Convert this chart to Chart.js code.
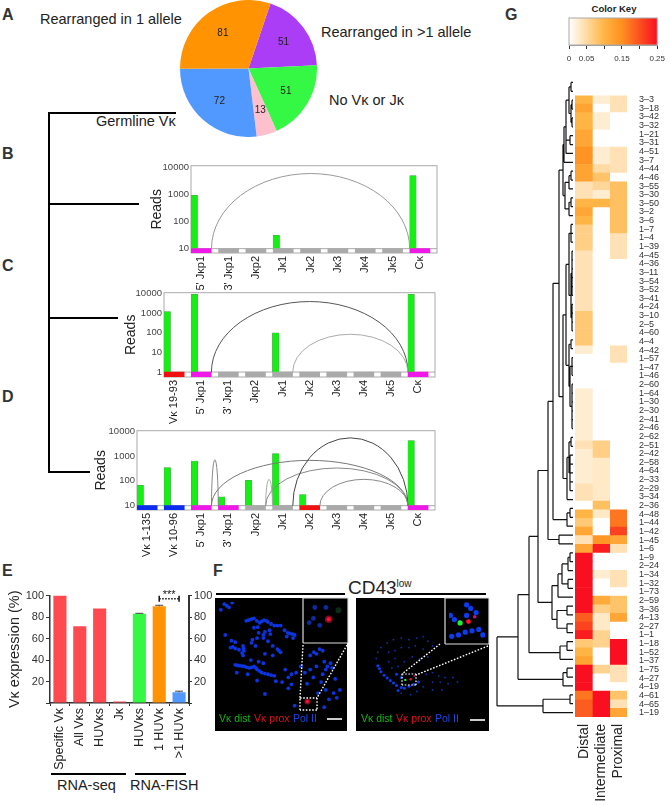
<!DOCTYPE html>
<html>
<head>
<meta charset="utf-8">
<title>Vk rearrangement figure</title>
<script src="https://cdn.jsdelivr.net/npm/chart.js@4"></script>
<style>
    html, body { margin: 0; padding: 0; background: #fff; }
    #page { position: relative; width: 670px; height: 805px; overflow: hidden; font-family: "Liberation Sans", Arial, sans-serif; color: #222; }
    #page canvas { position: absolute; }
    .t { position: absolute; white-space: nowrap; line-height: 1; }
    .letter { position: absolute; font-size: 16px; font-weight: bold; color: #333; line-height: 1; }
    .rule { position: absolute; background: #000; }
    .img { filter: blur(0.5px); background: #000; }
    svg { position: absolute; left: 0; top: 0; }
</style>
</head>
<body>
<div id="page">
    <div class="letter" style="left:2px;top:7px">A</div>
    <div class="letter" style="left:2px;top:146px">B</div>
    <div class="letter" style="left:2px;top:258px">C</div>
    <div class="letter" style="left:2px;top:389px">D</div>
    <div class="letter" style="left:2px;top:563px">E</div>
    <div class="letter" style="left:213px;top:563px">F</div>
    <div class="letter" style="left:505px;top:7px">G</div>

    <div class="t" style="left:40px;top:12px;font-size:14.5px">Rearranged in 1 allele</div>
    <div class="t" style="left:321px;top:25px;font-size:14.5px">Rearranged in &gt;1 allele</div>
    <div class="t" style="left:329px;top:93px;font-size:14.5px">No Vκ or Jκ</div>
    <div class="t" style="left:96px;top:114px;font-size:14.5px">Germline Vκ</div>

    <div class="rule" style="left:48px;top:112px;width:1.5px;height:361px"></div>
    <div class="rule" style="left:48px;top:112px;width:128px;height:1.5px"></div>
    <div class="rule" style="left:48px;top:203px;width:91px;height:1.5px"></div>
    <div class="rule" style="left:48px;top:317px;width:70px;height:1.5px"></div>
    <div class="rule" style="left:48px;top:471px;width:42px;height:1.5px"></div>

    <div class="rule" style="left:51px;top:773px;width:75px;height:1.5px"></div>
    <div class="rule" style="left:135px;top:773px;width:51px;height:1.5px"></div>
    <div class="t" style="left:57px;top:778px;font-size:14.5px">RNA-seq</div>
    <div class="t" style="left:130px;top:778px;font-size:14.5px">RNA-FISH</div>

    <div class="rule" style="left:216px;top:593px;width:129px;height:1.5px"></div>
    <div class="rule" style="left:400px;top:593px;width:86px;height:1.5px"></div>
    <div class="t" style="left:348px;top:578px;font-size:19px">CD43<span style="font-size:10px;position:relative;top:-7px">low</span></div>

    <div class="t" style="left:614px;top:4px;font-size:9.5px;font-weight:bold;transform:translateX(-50%)">Color Key</div>
</div>

<script>
Chart.defaults.animation = false;
Chart.defaults.font.family = '"Liberation Sans", Arial, sans-serif';
Chart.defaults.plugins.legend.display = false;
Chart.defaults.plugins.tooltip.enabled = false;

// A - pie
const pieLabels = ["Rearranged in >1 allele", "No Vκ or Jκ", "Other", "Germline Vκ", "Rearranged in 1 allele"];
const pieValues = [51, 51, 13, 72, 81];
const pieColors = ["#AB3DF6", "#35F845", "#FEC0CC", "#5299FF", "#FF9302"];

// B, C, D - reads
const bGenes = ["5' Jκp1", "3' Jκp1", "Jκp2", "Jκ1", "Jκ2", "Jκ3", "Jκ4", "Jκ5", "Cκ"];
const bReads = [950, null, null, 31, null, null, null, null, 5100];
const bStrips = ["#F018E8", "#aaa", "#aaa", "#aaa", "#aaa", "#aaa", "#aaa", "#aaa", "#F018E8"];
const bArcFrom = [0.75];
const bArcTo = [8];
const bArcPeak = [6050];

const cGenes = ["Vκ 19-93", "5' Jκp1", "3' Jκp1", "Jκp2", "Jκ1", "Jκ2", "Jκ3", "Jκ4", "Jκ5", "Cκ"];
const cReads = [1200, 9000, null, null, 100, null, null, null, null, 9000];
const cStrips = ["#F01010", "#F018E8", "#aaa", "#aaa", "#aaa", "#aaa", "#aaa", "#aaa", "#aaa", "#F018E8"];
const cArcFrom = [1.75, 4.75];
const cArcTo = [9, 9];
const cArcPeak = [3900, 84];

const dGenes = ["Vκ 1-135", "Vκ 10-96", "5' Jκp1", "3' Jκp1", "Jκp2", "Jκ1", "Jκ2", "Jκ3", "Jκ4", "Jκ5", "Cκ"];
const dReads = [66, 340, 630, 23, 105, 1270, 28, null, null, null, 4200];
const dStrips = ["#0A2CF0", "#0A2CF0", "#F018E8", "#F018E8", "#aaa", "#aaa", "#F01010", "#aaa", "#aaa", "#aaa", "#F018E8"];
const dArcFrom = [2.75, 2.75, 4.75, 4.75, 5.75, 6.75];
const dArcTo = [3, 10, 5, 10, 10, 10];
const dArcPeak = [710, 670, 115, 330, 5400, 115];

// E - expression
const exprLabels = ["Specific Vκ", "All Vκs", "HUVκs", "Jκ", "HUVκs", "1 HUVκ", ">1 HUVκ"];
const exprValues = [100, 71.5, 88, 1, 83, 90, 10];
const exprErrors = [0, 0, 0, 0, 0.5, 1, 1];
const exprColors = ["#FF4B50", "#FF4B50", "#FF4B50", "#FF4B50", "#35F845", "#FF9302", "#5299FF"];

// F - microscopy spots
const f1PolX = [25,40,14,50,95,108,120,138,152,165,185,205,170,155,132,120,135,218,235,250,225,245,28,48,60,45,60,72,85,88,85,115,130,150,165,180,195,205,180,155,125,60,75,90,105,120,130,145,165,185,110,135,150,65,100,130,190,210,230,240,255,220,300,320,340,345,355,370,340,310,300,320,155,230,240,325,350,375,385,360,345,250,290,
    33,102,114,129,145,160,175,195,228,243,52,68,87,82,68,83,97,113,126,138,155,175,150,172,112,200,270,283,312,330,350,365,380,395,335];
const f1PolY = [17,27,35,12,70,66,62,76,68,74,85,85,100,105,90,92,108,100,110,115,120,125,115,133,138,155,158,162,150,165,180,130,125,125,135,150,160,170,180,175,150,210,213,215,220,215,225,235,240,245,195,200,205,235,240,260,262,265,250,240,235,225,180,175,165,200,215,220,240,250,225,215,303,285,272,300,290,300,315,320,345,340,270,
    22,68,64,70,72,70,80,85,108,112,153,212,158,172,212,214,218,218,220,230,238,243,115,112,140,165,215,235,170,160,225,205,255,290,265];
const f2PolX = [60,65,75,95,115,140,165,190,210,225,240,100,120,140,165,185,210,100,120,150,175,200,225,110,130,220,240,260,280,305,320,240,265,290,210,240,270,190,170,140];
const f2PolY = [190,170,155,140,130,125,130,125,120,135,150,170,165,155,155,150,160,200,190,200,185,190,185,220,215,240,235,245,250,250,265,265,265,270,280,290,290,295,305,300];
const f2ArcX = [65,70,75,85,95,105,115,125,140,130,150,165,180,195,125,140];
const f2ArcY = [213,222,232,243,252,260,268,276,282,292,285,278,272,265,240,250];
const f1InsetPolX = [318,280,295,300,340];
const f1InsetPolY = [95,85,70,30,30];
const f2InsetPolX = [280,295,340,355,375,285,310,335,360,385,400,340];
const f2InsetPolY = [60,75,22,35,50,135,130,120,115,110,130,60];

// G - heatmap rows, top to bottom
const rowLabels = ["3–3","3–18","3–42","3–32","1–21","3–31","4–51","3–7","4–44","4–46","3–55","3–30","3–50","3–2","3–6","1–7","1–4","1–39","4–45","4–36","3–11","3–54","3–52","3–41","4–24","3–10","2–5","4–60","4–4","4–42","1–57","1–47","1–46","2–60","1–64","1–30","2–30","2–41","2–46","2–62","2–51","2–42","2–58","4–64","2–33","2–29","3–34","2–36","4–48","1–44","1–42","1–45","1–6","1–9","2–24","1–34","1–32","1–73","2–59","3–36","4–13","2–27","1–1","1–18","1–52","1–37","1–75","4–27","4–19","4–61","4–65","1–19"];
const colLabels = ["Distal", "Intermediate", "Proximal"];
const distal = [.10,.125,.10,.10,.12,.12,.145,.145,.125,.125,.04,.04,.10,.12,.10,.065,.065,.065,.04,.04,.04,.04,.04,.04,.04,.075,.075,.075,.075,.025,0,0,0,0,.025,.025,.025,.025,.025,.025,.04,.025,.025,.025,.025,.04,.04,0,.10,.075,.12,.04,.12,.25,.25,.25,.25,.25,.25,.25,.19,.21,.24,.075,.10,.125,.25,.25,.25,.17,.19,.19];
const intermediate = [.025,0,.025,.025,0,0,.025,.025,.05,.08,.055,.025,.10,0,0,0,0,0,0,0,0,0,0,0,0,0,0,0,0,0,0,0,0,0,0,0,0,0,0,0,.065,.065,.03,.03,.03,.03,.03,.085,.03,0,0,.14,.24,0,0,.025,0,0,.115,.065,.03,.03,.06,.06,0,0,.06,0,0,.25,.25,.25];
const proximal = [.04,.04,0,0,0,0,.04,.04,.04,0,.085,.085,.085,.085,.085,.085,.04,.04,.04,0,0,0,0,0,0,0,0,0,0,.04,.04,0,0,0,0,0,0,0,0,0,0,0,0,0,0,0,0,0,.17,.17,.21,.12,.04,0,0,.04,.04,0,.08,.08,.12,0,0,.25,.25,.25,.04,.04,0,.08,.04,.12];
const keyTicks = [0, 0.05, 0.1, 0.15, 0.2, 0.25];
const keyLabels = ["0", "0.05", "", "0.15", "", "0.25"];

// dendrogram: [merge height, ...children], a child is a subtree or a row number
const rowTree = [76,
    [55,
        [44,
            [35,
                [25,
                    [20,
                        [14,
                            [10,
                                [9, [7, [4, [2,0,1], [2,[1,2,3],[1,4,5]]], [3,6,7], 8], 9],
                                [8, [4,[2,10,11],12], [4,[2,13,14],15]]],
                            [10,
                                [7, [4,[2,16,17,18],[2,[1,19,20,21,22,23,24],[1,25,26,27,28]]],
                                    [4,[2,29,30],[3,[1,31,32,33],[1,34,35,36,37,38,39]]]],
                                [6, [4,[2,40,41],[3,42,43,44,45,46]], 47]]],
                        [6, [3,48,49], 50]],
                    [14,51,52]],
                [21,
                    [15, [11,[5,[3,53,54],55],[5,56,57]], 58],
                    [16, [6,59,60], [6,61,62]]]],
            [13, [6,63,64], 65]],
        [10, [6,66,67], 68]],
    [30, [3,69,70], 71]];

function addCanvas(left, top, width, height, cls) {
    const c = document.createElement("canvas");
    c.width = width;
    c.height = height;
    c.style.left = left + "px";
    c.style.top = top + "px";
    c.style.width = width + "px";
    c.style.height = height + "px";
    if (cls) c.className = cls;
    document.getElementById("page").appendChild(c);
    return c;
}

// A
new Chart(addCanvas(180, 0, 137, 137), {
    type: "pie",
    data: { labels: pieLabels, datasets: [{ data: pieValues, backgroundColor: pieColors, borderWidth: 0 }] },
    options: {
        responsive: false,
        rotation: 18.7,
        layout: { padding: 0 },
    },
    plugins: [{
        id: "sliceValues",
        afterDatasetsDraw(chart) {
            const ctx = chart.ctx;
            ctx.save();
            ctx.font = "10px 'Liberation Sans'";
            ctx.fillStyle = "#222";
            ctx.textAlign = "center";
            ctx.textBaseline = "middle";
            chart.getDatasetMeta(0).data.forEach((arc, i) => {
                const mid = (arc.startAngle + arc.endAngle) / 2;
                const r = arc.outerRadius * 0.64;
                ctx.fillText(pieValues[i], arc.x + Math.cos(mid) * r, arc.y + Math.sin(mid) * r);
            });
            ctx.restore();
        }
    }]
});

// B, C, D
function readsChart(area, yWidth, genes, reads, strips, arcFrom, arcTo, arcPeak, yMin, yMax, stripTop, ticks, arcColors) {
    const xHeight = 62;
    const canvas = addCanvas(area.l - yWidth, area.t - 6, area.r - area.l + yWidth + 3, area.b - area.t + 6 + xHeight);
    const stripData = genes.map((g, i) => ({ x: i + 0.375, y: [yMin, stripTop] }));
    const readData = [];
    reads.forEach((r, i) => { if (r !== null) readData.push({ x: i + 0.12, y: [stripTop, r] }); });
    new Chart(canvas, {
        type: "bar",
        data: {
            datasets: [
                { data: stripData, backgroundColor: strips, barThickness: 20, grouped: false },
                { data: readData, backgroundColor: "#14F014", borderColor: "#5a9a5a", borderWidth: 0.5, barThickness: 6.5, grouped: false }
            ]
        },
        options: {
            responsive: false,
            layout: { padding: { top: 6, right: 3, left: 0, bottom: 0 } },
            scales: {
                x: {
                    type: "linear", min: 0, max: genes.length, offset: false,
                    grid: { display: false, drawTicks: false }, border: { display: false },
                    afterBuildTicks: s => { s.ticks = genes.map((g, i) => ({ value: i + 0.375 })); },
                    afterFit: s => { s.height = xHeight; },
                    ticks: {
                        autoSkip: false, minRotation: 90, maxRotation: 90, padding: 3,
                        color: "#222", font: { size: 11 },
                        callback: (v, i) => genes[i]
                    }
                },
                y: {
                    type: "logarithmic", min: yMin, max: yMax,
                    grid: { display: false, drawTicks: false }, border: { display: false },
                    afterBuildTicks: s => { s.ticks = ticks.map(v => ({ value: v })); },
                    afterFit: s => { s.width = yWidth; },
                    ticks: { autoSkip: false, color: "#444", padding: 2, font: { size: 9.5 }, callback: v => String(v) },
                    title: { display: true, text: "Reads", color: "#222", font: { size: 14 }, padding: 0 }
                }
            }
        },
        plugins: [{
            id: "spliceArcs",
            beforeDatasetsDraw(chart) {
                const ctx = chart.ctx, a = chart.chartArea, sy = chart.scales.y;
                ctx.save();
                ctx.strokeStyle = "#aaa";
                ctx.lineWidth = 1;
                ctx.strokeRect(a.left, a.top, a.right - a.left, a.bottom - a.top);
                ctx.beginPath();
                ctx.moveTo(a.left, sy.getPixelForValue(stripTop));
                ctx.lineTo(a.right, sy.getPixelForValue(stripTop));
                ctx.stroke();
                ctx.restore();
            },
            afterDatasetsDraw(chart) {
                const ctx = chart.ctx, sx = chart.scales.x, sy = chart.scales.y;
                const base = sy.getPixelForValue(stripTop);
                ctx.save();
                arcFrom.forEach((from, i) => {
                    const x0 = sx.getPixelForValue(from), x1 = sx.getPixelForValue(arcTo[i]);
                    ctx.beginPath();
                    ctx.ellipse((x0 + x1) / 2, base, (x1 - x0) / 2, base - sy.getPixelForValue(arcPeak[i]), 0, Math.PI, 2 * Math.PI);
                    ctx.strokeStyle = arcColors[i];
                    ctx.lineWidth = 1;
                    ctx.stroke();
                });
                ctx.restore();
            }
        }]
    });
}

readsChart({ l: 191, t: 164, r: 437, b: 253 }, 42, bGenes, bReads, bStrips, bArcFrom, bArcTo, bArcPeak, 6.9, 11800, 10, [10, 100, 1000, 10000], ["#999"]);
readsChart({ l: 164, t: 291, r: 435, b: 377 }, 41, cGenes, cReads, cStrips, cArcFrom, cArcTo, cArcPeak, 0.56, 11000, 1, [1, 10, 100, 1000, 10000], ["#555", "#aaa"]);
readsChart({ l: 136.7, t: 428.7, r: 435, b: 510 }, 44, dGenes, dReads, dStrips, dArcFrom, dArcTo, dArcPeak, 6.7, 10500, 10, [10, 100, 1000, 10000], ["#888", "#777", "#aaa", "#888", "#444", "#888"]);

// E
new Chart(addCanvas(6, 587, 214, 197), {
    type: "bar",
    data: {
        labels: exprLabels,
        datasets: [{ data: exprValues, backgroundColor: exprColors, barPercentage: 0.66, categoryPercentage: 1, minBarLength: 1.5 }]
    },
    options: {
        responsive: false,
        layout: { padding: { top: 6, right: 0, left: 0, bottom: 0 } },
        scales: {
            x: {
                grid: { drawOnChartArea: false, tickLength: 3, color: "#333" },
                border: { color: "#333", width: 1.5 },
                afterFit: s => { s.height = 81; },
                ticks: { autoSkip: false, minRotation: 90, maxRotation: 90, padding: 2, color: "#222", font: { size: 12.5 } }
            },
            y: {
                min: 0, max: 100,
                grid: { drawOnChartArea: false, tickLength: 4, color: "#333" },
                border: { color: "#333", width: 1.5 },
                afterFit: s => { s.width = 44; },
                ticks: { stepSize: 20, padding: 2, color: "#333", font: { size: 11 }, callback: v => v === 0 ? "" : v },
                title: { display: true, text: "Vκ expression (%)", color: "#222", font: { size: 14.5 }, padding: 0 }
            },
            y2: {
                position: "right", min: 0, max: 100,
                grid: { drawOnChartArea: false, tickLength: 3, color: "#333" },
                border: { color: "#333", width: 2 },
                afterFit: s => { s.width = 31; },
                ticks: { stepSize: 20, padding: 2, color: "#333", font: { size: 11 }, callback: v => v === 0 ? "" : v }
            }
        }
    },
    plugins: [{
        id: "errorsAndBracket",
        afterDatasetsDraw(chart) {
            const ctx = chart.ctx, sx = chart.scales.x, sy = chart.scales.y;
            ctx.save();
            ctx.strokeStyle = "#444";
            ctx.lineWidth = 1;
            exprErrors.forEach((err, i) => {
                if (!err) return;
                const px = sx.getPixelForValue(i), top = sy.getPixelForValue(exprValues[i] + err);
                ctx.beginPath();
                ctx.moveTo(px, sy.getPixelForValue(exprValues[i]));
                ctx.lineTo(px, top);
                ctx.moveTo(px - 4, top);
                ctx.lineTo(px + 4, top);
                ctx.stroke();
            });
            // *** between 1 HUVk and >1 HUVk
            const x0 = sx.getPixelForValue(5), x1 = sx.getPixelForValue(6), y = sy.getPixelForValue(97);
            ctx.strokeStyle = "#111";
            ctx.lineWidth = 1.5;
            ctx.setLineDash([1.5, 1.5]);
            ctx.beginPath();
            ctx.moveTo(x0, y);
            ctx.lineTo(x1, y);
            ctx.stroke();
            ctx.setLineDash([]);
            ctx.beginPath();
            ctx.moveTo(x0, y - 3);
            ctx.lineTo(x0, y + 3);
            ctx.moveTo(x1, y - 3);
            ctx.lineTo(x1, y + 3);
            ctx.stroke();
            ctx.fillStyle = "#111";
            ctx.font = "11px 'Liberation Sans'";
            ctx.textAlign = "center";
            ctx.fillText("***", (x0 + x1) / 2, y - 1);
            ctx.restore();
        }
    }]
});

// F
function spotChart(rect, bounds, sets) {
    new Chart(addCanvas(rect[0], rect[1], rect[2], rect[3], "img"), {
        type: "scatter",
        data: {
            datasets: sets.map(s => ({
                data: s.x.map((v, i) => ({ x: v, y: s.y[i] })),
                backgroundColor: s.color,
                pointRadius: s.r,
                borderWidth: 0
            }))
        },
        options: {
            responsive: false,
            layout: { padding: 0 },
            scales: {
                x: { display: false, min: bounds[0], max: bounds[1] },
                y: { display: false, min: bounds[2], max: bounds[3], reverse: true }
            }
        }
    });
}

spotChart([215, 598, 132, 133], [8, 405, 10, 408], [
    { x: f1PolX, y: f1PolY, color: "#0C34E0", r: 1.9 },
    { x: [291], y: [327], color: "rgba(255,20,60,0.5)", r: 3 },
    { x: [291], y: [327], color: "#FF1030", r: 1.6 }
]);
spotChart([356, 598, 133, 133], [8, 408, 10, 408], [
    { x: f2PolX, y: f2PolY, color: "#0C34B0", r: 0.9 },
    { x: f2ArcX, y: f2ArcY, color: "#0C3CF0", r: 1.5 },
    { x: [153], y: [258], color: "#20F030", r: 1.2 },
    { x: [170], y: [256], color: "#FF1030", r: 1.2 },
    { x: [182], y: [245], color: "#D01080", r: 0.9 }
]);
spotChart([303, 598, 45, 45], [272, 405, 10, 145], [
    { x: f1InsetPolX, y: f1InsetPolY, color: "rgba(20,60,230,0.7)", r: 2.4 },
    { x: [385], y: [40], color: "rgba(20,90,40,0.5)", r: 3 },
    { x: [350], y: [73], color: "rgba(255,20,60,0.5)", r: 3.8 },
    { x: [350], y: [73], color: "#FF1030", r: 2 }
]);
spotChart([445, 598, 44, 46], [275, 408, 12, 148], [
    { x: f2InsetPolX, y: f2InsetPolY, color: "#0C3CF0", r: 2.6 },
    { x: [316], y: [87], color: "#20F030", r: 2.6 },
    { x: [347], y: [82], color: "#FF1030", r: 2.4 },
    { x: [370], y: [65], color: "#D01080", r: 1.8 }
]);

// G - colour scale and key
const scaleStops = [[0, [255, 255, 255]], [0.1, [255, 181, 69]], [0.15, [255, 144, 32]], [0.25, [250, 15, 32]]];
function heatColor(v) {
    for (let i = 1; i < scaleStops.length; i++) {
        const [v0, c0] = scaleStops[i - 1], [v1, c1] = scaleStops[i];
        if (v <= v1) {
            const t = (v - v0) / (v1 - v0);
            return `rgb(${c0.map((c, k) => Math.round(c + (c1[k] - c) * t)).join(",")})`;
        }
    }
    return "rgb(250,15,32)";
}

new Chart(addCanvas(560, 16, 110, 52), {
    type: "bar",
    data: {
        labels: ["Color Key"],
        datasets: [{
            data: [[0, 0.25]],
            barPercentage: 1, categoryPercentage: 1,
            borderWidth: 0,
            backgroundColor(ctx) {
                const area = ctx.chart.chartArea;
                if (!area) return "#fff";
                const g = ctx.chart.ctx.createLinearGradient(area.left, 0, area.right, 0);
                scaleStops.forEach(s => g.addColorStop(s[0] / 0.25, heatColor(s[0])));
                return g;
            }
        }]
    },
    options: {
        indexAxis: "y",
        responsive: false,
        layout: { padding: { left: 9, right: 10, top: 2, bottom: 0 } },
        scales: {
            x: {
                min: 0, max: 0.25,
                grid: { drawOnChartArea: false, tickLength: 4, color: "#333" },
                border: { color: "#999" },
                afterBuildTicks: s => { s.ticks = keyTicks.map(v => ({ value: v })); },
                afterFit: s => { s.height = 23; },
                ticks: { autoSkip: false, maxRotation: 0, minRotation: 0, padding: 5, color: "#333", font: { size: 8 }, callback: (v, i) => keyLabels[i] }
            },
            y: { display: false }
        }
    },
    plugins: [{
        id: "keyFrame",
        afterDraw(chart) {
            const a = chart.chartArea, ctx = chart.ctx;
            ctx.save();
            ctx.strokeStyle = "#aaa";
            ctx.strokeRect(a.left, a.top, a.right - a.left, a.bottom - a.top);
            ctx.restore();
        }
    }]
});

// G - heatmap, one stacked bar per row
const heatXHeight = 88;
new Chart(addCanvas(575, 78, 95, 639 + heatXHeight), {
    type: "bar",
    data: {
        labels: rowLabels,
        datasets: [distal, intermediate, proximal].map(col => ({
            data: col.map(() => 1),
            backgroundColor: col.map(heatColor),
            barPercentage: 1,
            categoryPercentage: 1,
            borderWidth: 0
        }))
    },
    options: {
        indexAxis: "y",
        responsive: false,
        layout: { padding: 0 },
        scales: {
            x: {
                stacked: true, min: 0, max: 3,
                grid: { display: false, drawTicks: false }, border: { display: false },
                afterBuildTicks: s => { s.ticks = colLabels.map((c, i) => ({ value: i + 0.5 })); },
                afterFit: s => { s.height = heatXHeight; },
                ticks: { autoSkip: false, minRotation: 90, maxRotation: 90, padding: 7, color: "#222", font: { size: 14 }, callback: (v, i) => colLabels[i] }
            },
            y: {
                stacked: true, position: "right",
                grid: { display: false, drawTicks: false }, border: { display: false },
                afterFit: s => { s.width = 43; },
                ticks: { autoSkip: false, padding: 12, color: "#333", font: { size: 9 } }
            }
        }
    }
});

// G - dendrogram
function treeSegments(node, out) {
    if (typeof node === "number") return { h: 0, y: node };
    const kids = node.slice(1).map(k => treeSegments(k, out));
    const first = kids[0].y, last = kids[kids.length - 1].y;
    kids.forEach(k => { out.push({ x: k.h, y: k.y }, { x: node[0], y: k.y }, { x: NaN, y: NaN }); });
    out.push({ x: node[0], y: first }, { x: node[0], y: last }, { x: NaN, y: NaN });
    return { h: node[0], y: (first + last) / 2 };
}
const treeLines = [];
treeSegments(rowTree, treeLines);
new Chart(addCanvas(495, 78, 78, 639), {
    type: "scatter",
    data: {
        datasets: [{ data: treeLines, showLine: true, spanGaps: false, borderColor: "#111", borderWidth: 1.2, pointRadius: 0 }]
    },
    options: {
        responsive: false,
        layout: { padding: 0 },
        scales: {
            x: { display: false, min: 0, max: 78, reverse: true },
            y: { display: false, min: -0.5, max: 71.5, reverse: true }
        }
    }
});

// F - overlay text and dotted zoom guides sit on top of the spot charts
const page = document.getElementById("page");
const ns = "http://www.w3.org/2000/svg";
const svg = document.createElementNS(ns, "svg");
svg.setAttribute("width", 670);
svg.setAttribute("height", 805);
function guide(x1, y1, x2, y2, color, width, dash) {
    const l = document.createElementNS(ns, "line");
    l.setAttribute("x1", x1); l.setAttribute("y1", y1);
    l.setAttribute("x2", x2); l.setAttribute("y2", y2);
    l.setAttribute("stroke", color);
    l.setAttribute("stroke-width", width);
    if (dash) l.setAttribute("stroke-dasharray", dash);
    svg.appendChild(l);
}
function box(x, y, w, h, color, width, dash) {
    guide(x, y, x + w, y, color, width, dash);
    guide(x + w, y, x + w, y + h, color, width, dash);
    guide(x + w, y + h, x, y + h, color, width, dash);
    guide(x, y + h, x, y, color, width, dash);
}
box(303, 598, 45, 45, "#ddd", 1.2);
box(445, 598, 44, 46, "#ddd", 1.2);
box(300, 698, 17, 12, "#fff", 1.4, "1.6 1.6");
box(402, 674, 14, 11, "#fff", 1.2, "1.6 1.6");
guide(303, 645, 300, 698, "#fff", 1.4, "1.6 1.6");
guide(347, 645, 317, 698, "#fff", 1.4, "1.6 1.6");
guide(440, 644, 402, 674, "#fff", 1.4, "1.6 1.6");
guide(488, 646, 416, 675, "#fff", 1.4, "1.6 1.6");
guide(327, 719, 342, 719, "#fff", 1.6);
guide(470, 720, 485, 720, "#fff", 1.6);
page.appendChild(svg);

function caption(left, text, color) {
    const d = document.createElement("div");
    d.className = "t";
    d.style.cssText = `left:${left}px;top:713px;font-size:10.5px;color:${color}`;
    d.textContent = text;
    page.appendChild(d);
}
caption(219, "Vκ dist", "#12B812");
caption(254, "Vκ prox", "#E01020");
caption(293, "Pol II", "#1A46E8");
caption(361, "Vκ dist", "#12B812");
caption(396, "Vκ prox", "#E01020");
caption(435, "Pol II", "#1A46E8");
</script>
</body>
</html>
